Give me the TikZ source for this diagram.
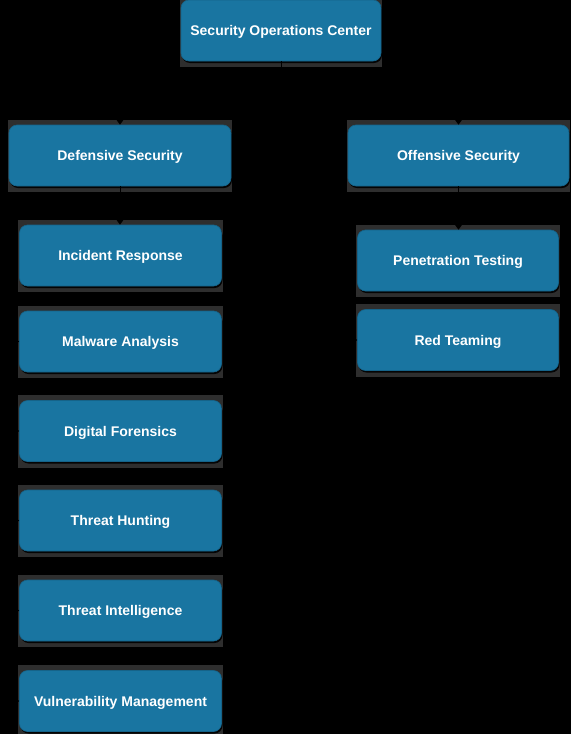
\documentclass[tikz,border=0pt]{standalone}
\usepackage{fontspec}
\setmainfont{Liberation Sans}
\usetikzlibrary{arrows.meta,shadows,backgrounds}
\definecolor{boxblue}{RGB}{25,117,161}
\definecolor{haloc}{RGB}{46,46,46}
\begin{document}
\begin{tikzpicture}[x=1pt,y=-1pt,
  box/.style={rectangle, rounded corners=8pt, fill=boxblue, draw=boxblue!85!black,
    line width=0.6pt, text=white, font=\fontsize{14}{16}\selectfont\bfseries,
    inner sep=0pt, minimum height=61pt, text depth=0pt,
    drop shadow={shadow xshift=1pt, shadow yshift=-2pt, fill=black, opacity=0.9}},
  conn/.style={draw=black, line width=1pt, -{Triangle[width=7pt,length=5pt]}},
  halo/.style={fill=haloc}]
\useasboundingbox (0,0) rectangle (571,734);

\node[box, minimum width=200pt] (soc) at (281,30.5) {Security Operations Center};
\node[box, minimum width=222pt] (def) at (120,155.5) {Defensive Security};
\node[box, minimum width=221pt] (off) at (458.5,155.5) {Offensive Security};

\node[box, minimum width=202pt] (ir) at (120.5,255.5) {Incident Response};
\node[box, minimum width=202pt] (ma) at (120.5,341.5) {Malware Analysis};
\node[box, minimum width=202pt] (df) at (120.5,431) {Digital Forensics};
\node[box, minimum width=202pt] (th) at (120.5,520.5) {Threat Hunting};
\node[box, minimum width=202pt] (ti) at (120.5,610.5) {Threat Intelligence};
\node[box, minimum width=202pt] (vm) at (120.5,701) {Vulnerability Management};

\node[box, minimum width=201pt] (pt) at (458,260.5) {Penetration Testing};
\node[box, minimum width=201pt] (rt) at (458,340) {Red Teaming};

\begin{scope}[on background layer]
\fill[black] (0,0) rectangle (571,734);
\foreach \n in {soc,def,off,ir,ma,df,th,ti,vm,pt,rt}
  \fill[halo] ([shift={(-1,-5)}]\n.north west) rectangle ([shift={(1,6)}]\n.south east);
\end{scope}

\draw[conn] (soc.south) -- ++(0,32) -| (def.north);
\draw[conn] (soc.south) -- ++(0,32) -| (off.north);

\draw[conn] (def.south) -- (def.south |- ir.north);
\foreach \c in {ma,df,th,ti,vm}
  \draw[conn] (def.south) -- ++(0,14) -| ([xshift=-7pt]\c.west) -- (\c.west);

\draw[conn] (off.south) -- (off.south |- pt.north);
\draw[conn] (off.south) -- ++(0,14) -| ([xshift=-7pt]rt.west) -- (rt.west);
\end{tikzpicture}
\end{document}
